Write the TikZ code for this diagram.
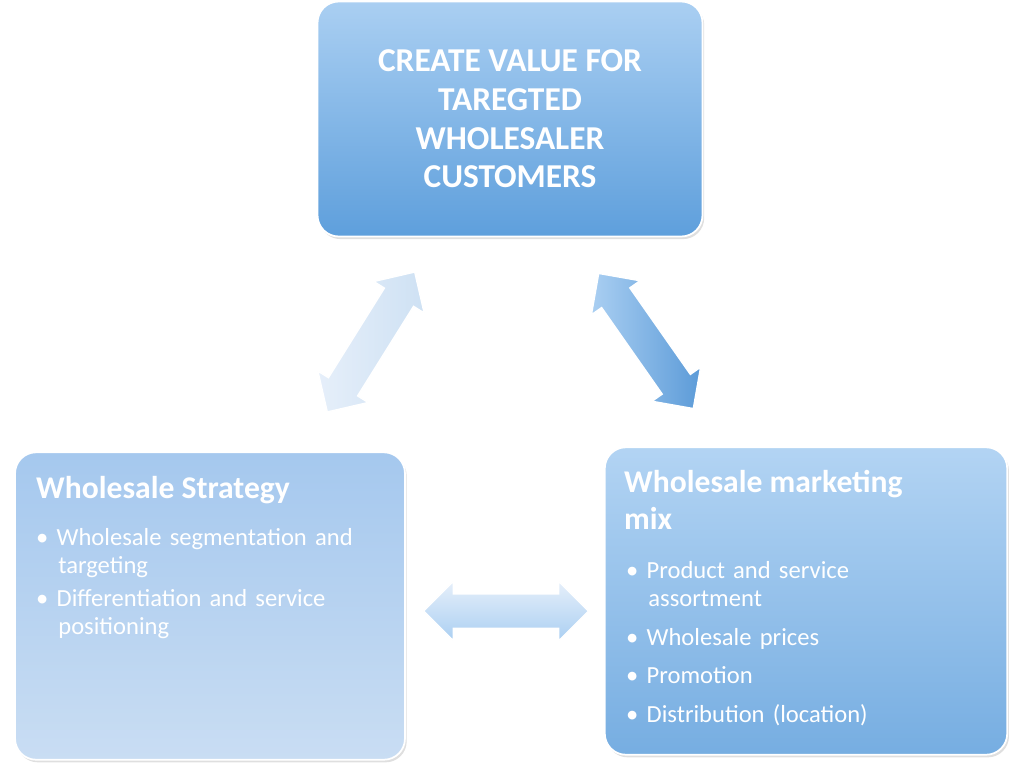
\documentclass[tikz,border=0pt]{standalone}
\usepackage{fontspec}
\setmainfont{Carlito}
\usetikzlibrary{shapes.arrows,shadows}
\definecolor{boxtop}{HTML}{AACFF2}
\definecolor{boxbot}{HTML}{5E9FDC}
\definecolor{paletop}{HTML}{A5C8EE}
\definecolor{palebot}{HTML}{C9DDF3}
\definecolor{arrdark}{HTML}{5C9BD8}
\definecolor{arrlite}{HTML}{E6EFFA}
\tikzset{
  box/.style={draw=white, line width=1pt, rounded corners=12pt, text=white,
    drop shadow={opacity=0.25, shadow xshift=1pt, shadow yshift=-1.5pt}},
  twoway/.style={double arrow, draw=white, line width=0.8pt,
    double arrow head extend=0.25cm, minimum height=#1,
    inner xsep=0pt, inner ysep=0.33cm, text height=0pt, text depth=0pt},
  itemtext/.style={font=\fontsize{14}{16}\selectfont}
}
\begin{document}
\begin{tikzpicture}[x=0.02cm, y=-0.02cm]
\useasboundingbox (0,0) rectangle (1024,773);
% boxes
\node (value) [box, top color=boxtop, bottom color=boxbot, minimum width=7.7cm,
  minimum height=4.7cm, align=center, font=\bfseries\fontsize{19}{22}\selectfont]
  at (510,119) {CREATE VALUE FOR\\TAREGTED\\WHOLESALER\\CUSTOMERS};
\node (strategy) [box, top color=paletop, bottom color=palebot, minimum width=7.8cm,
  minimum height=6.15cm] at (210,606) {};
\node (mix) [box, top color=boxtop!90, bottom color=boxbot!85, minimum width=8.05cm,
  minimum height=6.15cm] at (806,601) {};
% texts
\node [anchor=north west, text=white, font=\bfseries\fontsize{18}{21}\selectfont]
  at (30,470) {Wholesale Strategy};
\node [anchor=north west, text=white, itemtext, align=left, text width=7.2cm]
  at (30,522) {\textbullet\ Wholesale segmentation and\\\hspace{0.9em}targeting\\[3pt]
  \textbullet\ Differentiation and service\\\hspace{0.9em}positioning};
\node [anchor=north west, text=white, font=\bfseries\fontsize{18}{21}\selectfont,
  align=left] at (618,464) {Wholesale marketing\\mix};
\node [anchor=north west, text=white, itemtext, align=left, text width=7.4cm]
  at (620,555) {\textbullet\ Product and service\\\hspace{0.9em}assortment\\[6pt]
  \textbullet\ Wholesale prices\\[6pt]
  \textbullet\ Promotion\\[6pt]
  \textbullet\ Distribution (location)};
% connectors
\node (leftarrow) [twoway=3.3cm, rotate=58, left color=arrlite, right color=white!70!arrdark]
  at (371,342) {};
\node (rightarrow) [twoway=3.3cm, rotate=-55, left color=boxtop, right color=arrdark]
  at (646,341) {};
\node (botarrow) [twoway=3.3cm, top color=arrlite, bottom color=boxtop]
  at (506,611) {};
\end{tikzpicture}
\end{document}
